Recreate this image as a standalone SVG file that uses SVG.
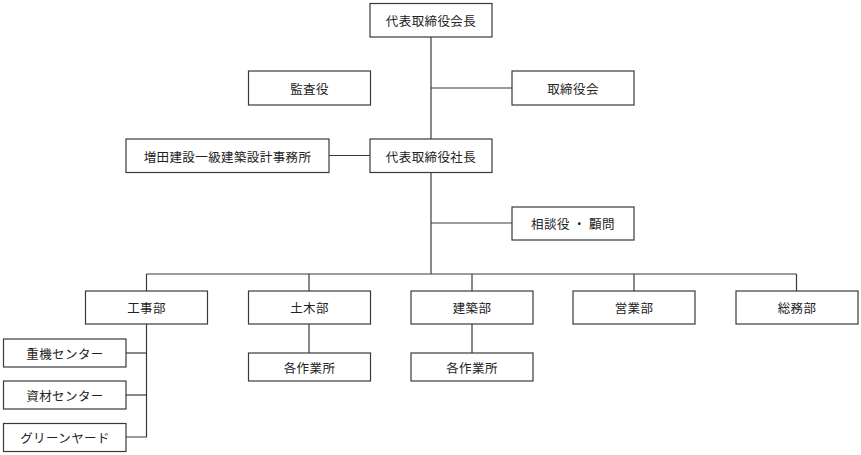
<svg xmlns="http://www.w3.org/2000/svg" width="861" height="455" viewBox="0 0 861 455">
<style>
rect{fill:#fff;stroke:#3a3a3a;stroke-width:1.2}
text{font-family:"Noto Sans CJK JP","Noto Sans CJK SC",sans-serif;font-size:12.5px;letter-spacing:0.4px;fill:#222;text-anchor:middle;dominant-baseline:central}
.c line,.c path{stroke:#3a3a3a;stroke-width:1.2;fill:none}
</style>
<rect x="0" y="0" width="861" height="455" style="fill:#fff;stroke:none"/>
<g class="c" id="connectors">
<line x1="431" y1="37" x2="431" y2="139"/>
<line x1="431" y1="88" x2="512" y2="88"/>
<line x1="329" y1="155.5" x2="370" y2="155.5"/>
<line x1="431" y1="172.5" x2="431" y2="274"/>
<line x1="431" y1="223" x2="512" y2="223"/>
<line x1="146.5" y1="274" x2="796.5" y2="274"/>
<line x1="146.5" y1="274" x2="146.5" y2="291"/>
<line x1="309" y1="274" x2="309" y2="291"/>
<line x1="472" y1="274" x2="472" y2="291"/>
<line x1="634" y1="274" x2="634" y2="291"/>
<line x1="796.5" y1="274" x2="796.5" y2="291"/>
<line x1="309" y1="324" x2="309" y2="353"/>
<line x1="472" y1="324" x2="472" y2="353"/>
<path d="M146.5 324 V437 H126"/>
<line x1="126" y1="353" x2="146.5" y2="353"/>
<line x1="126" y1="395" x2="146.5" y2="395"/>
</g>
<g id="chairman"><rect x="370" y="3.5" width="122" height="33.5"/><text x="431" y="20.5">代表取締役会長</text></g>
<g id="auditor"><rect x="248.5" y="71" width="122" height="34"/><text x="309.5" y="88">監査役</text></g>
<g id="board"><rect x="512" y="71" width="122" height="34"/><text x="573" y="88">取締役会</text></g>
<g id="office"><rect x="126" y="139" width="203" height="33.5"/><text x="227.5" y="156">増田建設一級建築設計事務所</text></g>
<g id="president"><rect x="370" y="139" width="122" height="33.5"/><text x="431" y="156">代表取締役社長</text></g>
<g id="advisor"><rect x="512" y="207" width="122" height="33"/><text x="573" y="223.5">相談役 ・ 顧問</text></g>
<g id="koji"><rect x="85.5" y="291" width="122" height="33"/><text x="146.5" y="307.5">工事部</text></g>
<g id="doboku"><rect x="248.5" y="291" width="122" height="33"/><text x="309.5" y="307.5">土木部</text></g>
<g id="kenchiku"><rect x="411" y="291" width="122" height="33"/><text x="472" y="307.5">建築部</text></g>
<g id="eigyo"><rect x="573" y="291" width="122" height="33"/><text x="634" y="307.5">営業部</text></g>
<g id="somu"><rect x="736" y="291" width="122" height="33"/><text x="797" y="307.5">総務部</text></g>
<g id="doboku-sites"><rect x="248.5" y="353" width="122" height="28"/><text x="309.5" y="367">各作業所</text></g>
<g id="kenchiku-sites"><rect x="411" y="353" width="122" height="28"/><text x="472" y="367">各作業所</text></g>
<g id="juki"><rect x="3.5" y="339" width="122.5" height="28"/><text x="65" y="353">重機センター</text></g>
<g id="shizai"><rect x="3.5" y="381" width="122.5" height="28"/><text x="65" y="395">資材センター</text></g>
<g id="green"><rect x="3.5" y="423.5" width="122.5" height="28"/><text x="65" y="437.5">グリーンヤード</text></g>
</svg>
